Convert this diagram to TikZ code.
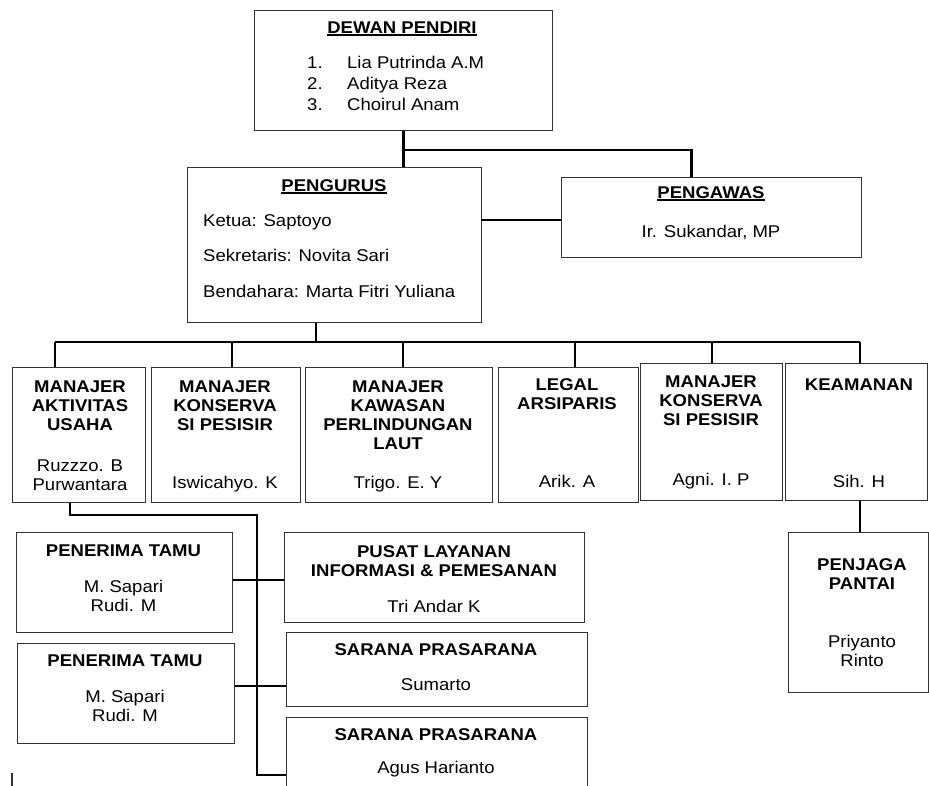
\documentclass[tikz,border=0pt]{standalone}
\usepackage{fontspec}
\setmainfont{Liberation Sans}[FakeStretch=1.09]
\usetikzlibrary{calc}
% underline with a fixed offset and weight
\newcommand\undl[1]{\setbox0\hbox{#1}\rlap{\rule[-2.4pt]{\wd0}{1.4pt}}\box0}
% strut with the height of a capital letter, fixes the top of each text block
\newcommand\capstrut{\rule{0pt}{12.2pt}}
\newcommand\hd[1]{\textbf{#1}}
\begin{document}
\begin{tikzpicture}[x=1pt,y=-1pt,
  box/.style={draw=black!80, line width=1.4pt, rectangle, inner sep=0pt, anchor=north west},
  link/.style={draw=black, line width=2.8pt},
  txt/.style={inner sep=0pt, anchor=north, align=center, text=black,
    font=\fontsize{17pt}{19pt}\selectfont},
  txtl/.style={txt, anchor=north west, align=left},
]
\useasboundingbox (0,0) rectangle (929,786);

% ---- boxes ----
\node[box, minimum width=298pt, minimum height=120pt] (dewan)    at (254,10)  {};
\node[box, minimum width=294pt, minimum height=155pt] (pengurus) at (187,167) {};
\node[box, minimum width=300pt, minimum height=80pt]  (pengawas) at (561,177) {};
\node[box, minimum width=133pt, minimum height=135pt] (m1) at (12,367)  {};
\node[box, minimum width=149pt, minimum height=135pt] (m2) at (151,367) {};
\node[box, minimum width=187pt, minimum height=135pt] (m3) at (305,367) {};
\node[box, minimum width=140pt, minimum height=135pt] (m4) at (498,367) {};
\node[box, minimum width=142pt, minimum height=137pt] (m5) at (640,363) {};
\node[box, minimum width=142pt, minimum height=137pt] (m6) at (785,363) {};
\node[box, minimum width=216pt, minimum height=100pt] (pt1) at (16,532) {};
\node[box, minimum width=217pt, minimum height=100pt] (pt2) at (17,643) {};
\node[box, minimum width=300pt, minimum height=90pt]  (pusat) at (284,532) {};
\node[box, minimum width=301pt, minimum height=74pt]  (sar1)  at (286,632) {};
\node[box, minimum width=301pt, minimum height=70pt]  (sar2)  at (286,717) {};
\node[box, minimum width=140pt, minimum height=160pt] (penjaga) at (788,532) {};

% ---- texts ----
\node[txt] (dewanT) at (402,20.8) {\capstrut\undl{\hd{DEWAN PENDIRI}}};
\node[txtl, font=\fontsize{17pt}{21pt}\selectfont] (dewanL) at (307,55.8)
  {\capstrut\makebox[40pt][l]{1.}Lia Putrinda A.M\\
   \makebox[40pt][l]{2.}Aditya Reza\\
   \makebox[40pt][l]{3.}Choirul Anam};
\node[txt] (pengurusT) at (334,178.8) {\capstrut\undl{\hd{PENGURUS}}};
\node[txtl, font=\fontsize{17pt}{35.5pt}\selectfont] (pengurusL) at (203,213.8)
  {\capstrut Ketua: Saptoyo\\ Sekretaris: Novita Sari\\ Bendahara: Marta Fitri Yuliana};
\node[txt] (pengawasT) at (711,185.8) {\capstrut\undl{\hd{PENGAWAS}}\\[20pt] Ir. Sukandar, MP};

\node[txt] (m1t) at (80,379.8)
  {\capstrut\hd{MANAJER}\\ \hd{AKTIVITAS}\\ \hd{USAHA}\\[22pt] Ruzzzo. B\\ Purwantara};
\node[txt] (m2t) at (225,379.8)
  {\capstrut\hd{MANAJER}\\ \hd{KONSERVA}\\ \hd{SI PESISIR}\\[39pt] Iswicahyo. K};
\node[txt] (m3t) at (398,379.8)
  {\capstrut\hd{MANAJER}\\ \hd{KAWASAN}\\ \hd{PERLINDUNGAN}\\ \hd{LAUT}\\[20pt] Trigo. E. Y};
\node[txt] (m4t) at (567,377.8)
  {\capstrut\hd{LEGAL}\\ \hd{ARSIPARIS}\\[59pt] Arik. A};
\node[txt] (m5t) at (711,374.8)
  {\capstrut\hd{MANAJER}\\ \hd{KONSERVA}\\ \hd{SI PESISIR}\\[41pt] Agni. I. P};
\node[txt] (m6t) at (859,377.8)
  {\capstrut\hd{KEAMANAN}\\[78pt] Sih. H};

\node[txt] (pt1t) at (123.5,543.8)
  {\capstrut\hd{PENERIMA TAMU}\\[17pt] M. Sapari\\ Rudi. M};
\node[txt] (pt2t) at (125,653.8)
  {\capstrut\hd{PENERIMA TAMU}\\[17pt] M. Sapari\\ Rudi. M};
\node[txt] (pusatt) at (434,544.8)
  {\capstrut\hd{PUSAT LAYANAN}\\ \hd{INFORMASI \& PEMESANAN}\\[17pt] Tri Andar K};
\node[txt] (sar1t) at (436,642.8)
  {\capstrut\hd{SARANA PRASARANA}\\[16pt] Sumarto};
\node[txt] (sar2t) at (436,727.8)
  {\capstrut\hd{SARANA PRASARANA}\\[14pt] Agus Harianto};
\node[txt] (penjagat) at (862,557.8)
  {\capstrut\hd{PENJAGA}\\ \hd{PANTAI}\\[39pt] Priyanto\\ Rinto};

% ---- connectors ----
\coordinate (jn) at (403,150);
\draw[link] (dewan.south) -- (dewan.south |- pengurus.north);
\draw[link] (jn) -| ($(pengawas.north)+(-20,0)$);
\coordinate (side) at (481,220);
\draw[link] (side) -- (side -| pengawas.west);

\coordinate (bus) at (316,342);
\coordinate (d1) at (55,342);
\coordinate (d2) at (232,342);
\coordinate (d3) at (403,342);
\coordinate (d4) at (575,342);
\coordinate (d5) at (712,342);
\coordinate (d6) at (860,342);
\draw[link] (pengurus.south -| bus) -- (bus);
\draw[link] (d1) -- (d6);
\draw[link] (d1) -- (d1 |- m1.north);
\draw[link] (d2) -- (d2 |- m2.north);
\draw[link] (d3) -- (d3 |- m3.north);
\draw[link] (d4) -- (d4 |- m4.north);
\draw[link] (d5) -- (d5 |- m5.north);
\draw[link] (d6) -- (d6 |- m6.north);

\coordinate (a) at (70,515);
\coordinate (b) at (257,515);
\coordinate (c) at (257,775);
\draw[link] (m1.south -| a) -- (a) -- (b) -- (c) -- (c -| sar2.west);
\coordinate (h1) at (257,580);
\coordinate (h2) at (257,686);
\draw[link] (h1 -| pt1.east) -- (h1 -| pusat.west);
\draw[link] (h2 -| pt2.east) -- (h2 -| sar1.west);
\draw[link] (m6.south -| d6) -- (d6 |- penjaga.north);

\coordinate (s1) at (12,773);
\coordinate (s2) at (12,786);
\draw[line width=1.2pt, black!80] (s1) -- (s2);
\end{tikzpicture}
\end{document}
